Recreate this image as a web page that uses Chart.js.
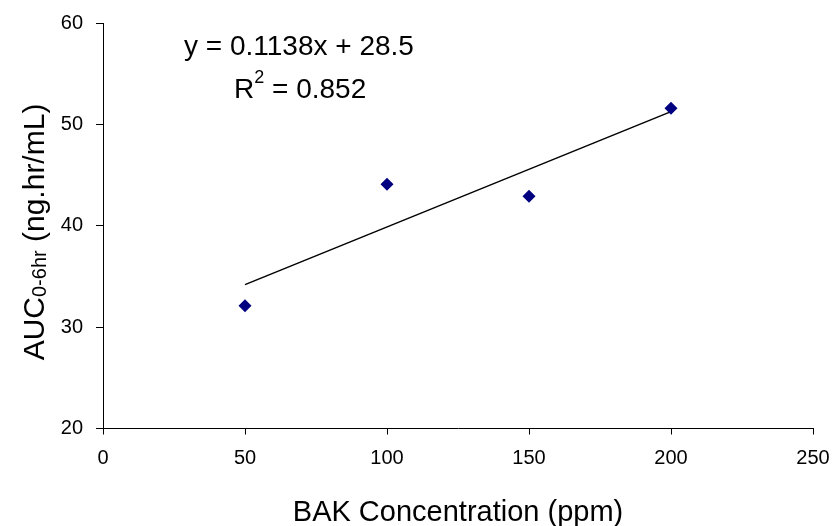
<!DOCTYPE html>
<html>
<head>
<meta charset="utf-8">
<script src="https://cdn.jsdelivr.net/npm/chart.js@4.4.1/dist/chart.umd.min.js"></script>
<style>
  html, body { margin: 0; padding: 0; background: #fff; }
  #wrap { width: 834px; height: 526px; position: relative; }
</style>
</head>
<body>
<div id="wrap"><canvas id="chart"></canvas></div>
<script>
const concentrations = [50, 100, 150, 200];
const aucValues = [32.1, 44.1, 42.9, 51.6];
const xTicks = [0, 50, 100, 150, 200, 250];
const yTicks = [20, 30, 40, 50, 60];

// trendline as printed on the chart
const slope = 0.1138;
const intercept = 28.5;
const trendX = [50, 200];
const equationText = 'y = 0.1138x + 28.5';
const r2Value = '0.852';

const FONT = '"Liberation Sans", Arial, sans-serif';

const trendPoints = trendX.map(x => ({ x: x, y: slope * x + intercept }));
const points = concentrations.map((c, i) => ({ x: c, y: aucValues[i] }));

// draws the y title (with subscript) and the equation text
const annotations = {
    id: 'annotations',
    afterDraw(chart) {
        const ctx = chart.ctx;
        ctx.save();
        ctx.fillStyle = '#000';
        ctx.textBaseline = 'alphabetic';

        // y axis title, rotated
        ctx.translate(44, 232);
        ctx.rotate(-Math.PI / 2);
        const partA = 'AUC', partB = '0-6hr', partC = ' (ng.hr/mL)';
        ctx.font = '30px ' + FONT;
        const wA = ctx.measureText(partA).width;
        const wC = ctx.measureText(partC).width;
        ctx.font = '20px ' + FONT;
        const wB = ctx.measureText(partB).width;
        let x0 = -(wA + wB + wC) / 2;
        ctx.font = '30px ' + FONT;
        ctx.fillText(partA, x0, 0);
        ctx.font = '20px ' + FONT;
        ctx.fillText(partB, x0 + wA, 2);
        ctx.font = '30px ' + FONT;
        ctx.fillText(partC, x0 + wA + wB, 0);
        ctx.restore();

        // equation and R squared
        ctx.save();
        ctx.fillStyle = '#000';
        ctx.font = '28px ' + FONT;
        ctx.textBaseline = 'alphabetic';
        ctx.fillText(equationText, 184, 55);
        ctx.fillText('R', 234, 98);
        const wR = ctx.measureText('R').width;
        ctx.font = '18px ' + FONT;
        ctx.fillText('2', 234 + wR, 83);
        const w2 = ctx.measureText('2').width;
        ctx.font = '28px ' + FONT;
        ctx.fillText(' = ' + r2Value, 234 + wR + w2, 98);
        ctx.restore();
    }
};

new Chart(document.getElementById('chart'), {
    type: 'scatter',
    data: {
        datasets: [{
            label: 'AUC',
            data: points,
            pointStyle: 'rectRot',
            pointRadius: 6.5,
            pointHoverRadius: 6.5,
            backgroundColor: '#000080',
            borderColor: '#000080',
            borderWidth: 0
        }, {
            type: 'line',
            label: 'Trend',
            data: trendPoints,
            borderColor: '#000',
            borderWidth: 1.5,
            pointRadius: 0,
            fill: false
        }]
    },
    options: {
        responsive: true,
        maintainAspectRatio: false,
        animation: false,
        layout: { padding: { top: 23, right: 21, left: 0, bottom: 0 } },
        plugins: {
            legend: { display: false },
            tooltip: { enabled: false }
        },
        scales: {
            x: {
                type: 'linear',
                min: 0,
                max: 250,
                afterBuildTicks: s => { s.ticks = xTicks.map(v => ({ value: v })); },
                ticks: { color: '#000', font: { family: FONT, size: 20 }, padding: 12, maxRotation: 0 },
                grid: { drawOnChartArea: false, drawTicks: true, tickLength: 6, color: '#000' },
                border: { color: '#000', width: 1 },
                title: { display: true, text: 'BAK Concentration (ppm)', color: '#000',
                         font: { family: FONT, size: 29 }, padding: { top: 10, bottom: -4 } },
                afterFit: s => { s.height = 97.5; s.paddingLeft = 0; s.paddingRight = 0; }
            },
            y: {
                min: 20,
                max: 60,
                afterBuildTicks: s => { s.ticks = yTicks.map(v => ({ value: v })); },
                ticks: { color: '#000', font: { family: FONT, size: 20 }, padding: 13 },
                grid: { drawOnChartArea: false, drawTicks: true, tickLength: 7, color: '#000' },
                border: { color: '#000', width: 1 },
                afterFit: s => { s.width = 103; s.paddingTop = 0; s.paddingBottom = 0; }
            }
        }
    },
    plugins: [annotations]
});
</script>
</body>
</html>
